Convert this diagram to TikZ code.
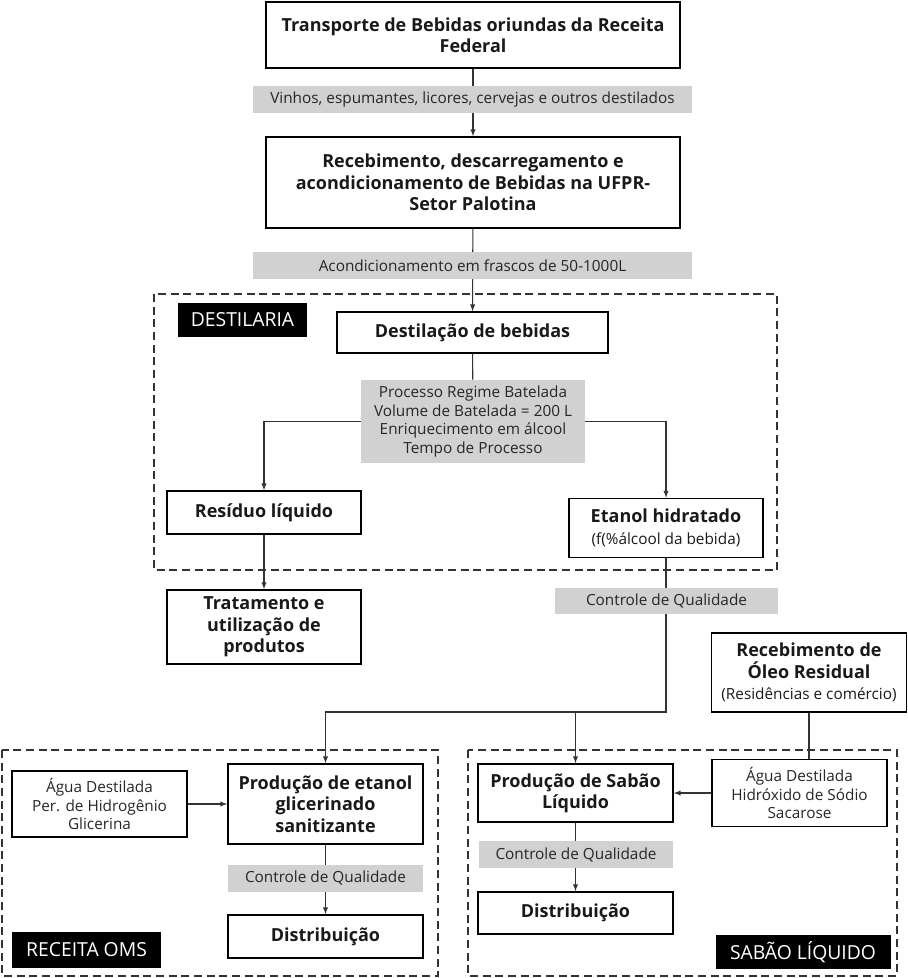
\documentclass[tikz,border=0pt]{standalone}
\usepackage{fontspec}
\setmainfont{Open Sans}
\usetikzlibrary{positioning,backgrounds}
\tikzset{
	>=latex,
}
\begin{document}
\begin{tikzpicture}[
		x=0.75pt,y=-0.75pt,
		sz/.style 2 args={minimum width=#1*0.75pt,minimum height=#2*0.75pt},
		etapa/.style={
			draw, line width=1.2pt, inner sep=0pt, align=center,
			font=\fontsize{13.5}{16}\selectfont\bfseries, text=black!90,
		},
		nota/.style={
			fill=black!18, inner sep=0pt, align=center,
			font=\fontsize{11.5}{13.8}\selectfont, text=black!85,
		},
		insumo/.style={
			draw, line width=0.9pt, inner sep=0pt, align=center,
			font=\fontsize{11.5}{13.8}\selectfont, text=black!85,
		},
		rotulo/.style={
			fill=black, text=white, inner sep=0pt,
			font=\fontsize{14.5}{17}\selectfont,
		},
		setor/.style={draw=black!80, line width=0.9pt, dash pattern=on 6pt off 3.5pt},
		fluxo/.style={draw=black!80, line width=0.8pt},
	]
	\useasboundingbox (0,0) rectangle (907,978);
	\def\sub#1{\\{\fontsize{11.5}{13}\mdseries\selectfont #1}}
		% setores
		\draw[setor] (154,294) rectangle (777,570);
		\draw[setor] (2,750) rectangle (438,976);
		\draw[setor] (468,750) rectangle (897,976);
		\draw
			node(trans)[etapa,sz={414}{66}] at (473,35)
				{Transporte de Bebidas oriundas da Receita\\Federal}
			node(vinhos)[nota,sz={439}{27}] at (472.5,99.5)
				{Vinhos, espumantes, licores, cervejas e outros destilados}
			node(receb)[etapa,sz={414}{91}] at (473,182.5)
				{Recebimento, descarregamento e\\acondicionamento de Bebidas na UFPR-\\Setor Palotina}
			node(acond)[nota,sz={439}{27}] at (472.5,265.5)
				{Acondicionamento em frascos de 50-1000L}
			node(destil)[etapa,sz={271}{41}] at (472.5,332.5)
				{Destilação de bebidas}
			node(proc)[nota,sz={224}{83}] at (473,421.5)
				{Processo Regime Batelada\\Volume de Batelada = 200 L\\Enriquecimento em álcool\\Tempo de Processo}
			node(resid)[etapa,sz={194}{43}] at (264,512.5)
				{Resíduo líquido}
			node(etanol)[etapa,sz={194}{59}] at (666,528)
				{Etanol hidratado\sub{(f(\%álcool da bebida)}}
			node(trat)[etapa,sz={194}{74}] at (264,627)
				{Tratamento e\\utilização de\\produtos}
			node(cq1)[nota,sz={223}{26}] at (666.5,601)
				{Controle de Qualidade}
			node(oleo)[etapa,sz={195}{79}] at (809,672.5)
				{Recebimento de\\Óleo Residual\sub{(Residências e comércio)}}
			node(agua1)[insumo,sz={175}{66}] at (99.5,804)
				{Água Destilada\\Per. de Hidrogênio\\Glicerina}
			node(prodet)[etapa,sz={195}{80}] at (325.5,804)
				{Produção de etanol\\glicerinado\\sanitizante}
			node(cq2)[nota,sz={195}{27}] at (325.5,878)
				{Controle de Qualidade}
			node(dist1)[etapa,sz={195}{43}] at (325.5,936.5)
				{Distribuição}
			node(prodsab)[etapa,sz={195}{58}] at (575.5,793)
				{Produção de Sabão\\Líquido}
			node(agua2)[insumo,sz={175}{67}] at (799.5,793)
				{Água Destilada\\Hidróxido de Sódio\\Sacarose}
			node(cq3)[nota,sz={194}{27}] at (576,854.5)
				{Controle de Qualidade}
			node(dist2)[etapa,sz={195}{42}] at (575.5,913)
				{Distribuição}
			node(labdest)[rotulo,sz={129}{34}] at (242.5,320) {DESTILARIA}
			node(laboms)[rotulo,sz={149}{36}] at (86.5,950) {RECEITA OMS}
			node(labsab)[rotulo,sz={175}{34}] at (803,952) {SABÃO LÍQUIDO}
		;
		\coordinate (juncao) at (0,712);
		\begin{scope}[on background layer]
			\draw[fluxo,->] (trans) -- (receb);
			\draw[fluxo,->] (receb) -- (destil);
			\draw[fluxo] (destil) -- (proc);
			\draw[fluxo,->] (proc.west) -| (resid.north);
			\draw[fluxo,->] (proc.east) -| (etanol.north);
			\draw[fluxo,->] (resid) -- (trat);
			\draw[fluxo,->] (etanol.south) |- (juncao -| prodet.north) -- (prodet.north);
			\draw[fluxo,->] (juncao -| prodsab.north) -- (prodsab.north);
			\draw[fluxo] (oleo.south) -- (oleo.south |- agua2.north);
			\draw[fluxo,->] (agua1) -- (prodet);
			\draw[fluxo,->] (agua2) -- (prodsab);
			\draw[fluxo,->] (prodet) -- (dist1);
			\draw[fluxo,->] (prodsab) -- (dist2);
		\end{scope}
	\end{tikzpicture}
\end{document}
